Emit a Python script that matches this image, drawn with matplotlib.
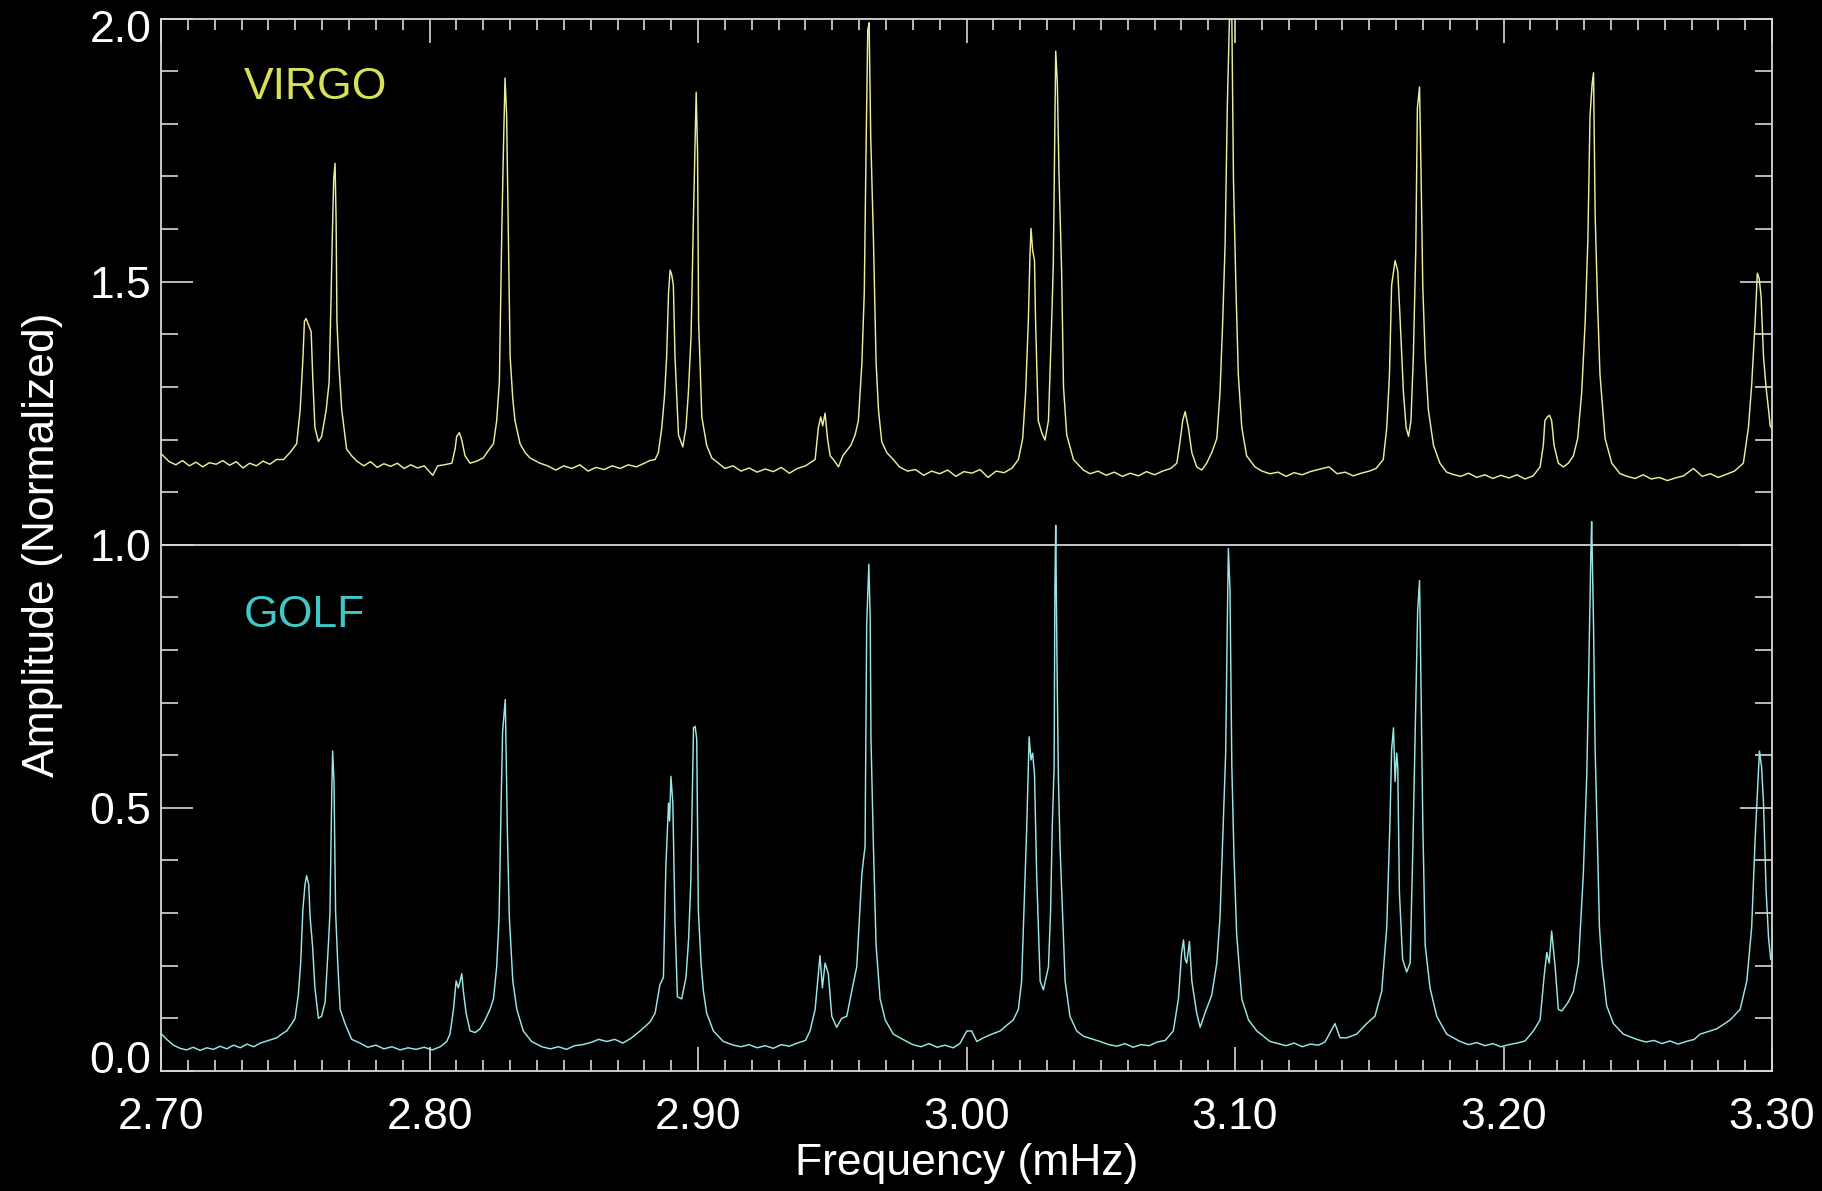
import matplotlib
matplotlib.use("Agg")
import matplotlib.pyplot as plt
import matplotlib.transforms as mtransforms
from matplotlib.ticker import MultipleLocator, FixedLocator

# ---------------- data ----------------
virgo_freq = [
    2.7002, 2.7030, 2.7055, 2.7080, 2.7105, 2.7130, 2.7155, 2.7180, 2.7205, 2.7230,
    2.7255, 2.7280, 2.7305, 2.7330, 2.7355, 2.7380, 2.7405, 2.7430, 2.7456, 2.7480,
    2.7505, 2.7518, 2.7528, 2.7534, 2.7540, 2.7549, 2.7559, 2.7565, 2.7573, 2.7586,
    2.7598, 2.7615, 2.7626, 2.7633, 2.7638, 2.7643, 2.7648, 2.7652, 2.7655, 2.7662,
    2.7673, 2.7691, 2.7710, 2.7729,
    2.7755, 2.7780, 2.7805, 2.7830, 2.7855, 2.7880, 2.7905, 2.7930, 2.7955, 2.7980,
    2.8012, 2.8030, 2.8055, 2.8083, 2.8095, 2.8101, 2.8111, 2.8120, 2.8132, 2.8151,
    2.8176, 2.8200, 2.8219, 2.8238, 2.8250, 2.8260, 2.8269, 2.8275, 2.8281, 2.8287,
    2.8293, 2.8300, 2.8310, 2.8318, 2.8337, 2.8356, 2.8374, 2.8411,
    2.8440, 2.8470, 2.8500, 2.8530, 2.8560, 2.8590, 2.8620, 2.8650, 2.8680, 2.8710,
    2.8740, 2.8770, 2.8800, 2.8820, 2.8840, 2.8852, 2.8865, 2.8875, 2.8883, 2.8890,
    2.8896, 2.8902, 2.8908, 2.8914, 2.8927, 2.8943, 2.8955, 2.8964, 2.8974, 2.8983,
    2.8989, 2.8993, 2.8998, 2.9002, 2.9014, 2.9032, 2.9051, 2.9076,
    2.9100, 2.9130, 2.9160, 2.9190, 2.9220, 2.9250, 2.9280, 2.9310, 2.9340, 2.9370,
    2.9400, 2.9436, 2.9448, 2.9457, 2.9464, 2.9473, 2.9482, 2.9492, 2.9504, 2.9523,
    2.9539, 2.9554, 2.9569, 2.9585, 2.9597, 2.9610, 2.9619, 2.9626, 2.9632, 2.9637,
    2.9643, 2.9653, 2.9663, 2.9672, 2.9684, 2.9703, 2.9727,
    2.9750, 2.9780, 2.9810, 2.9840, 2.9870, 2.9900, 2.9930, 2.9960, 2.9990, 3.0020,
    3.0050, 3.0080, 3.0110, 3.0140, 3.0170, 3.0193, 3.0209, 3.0220, 3.0230, 3.0236,
    3.0240, 3.0246, 3.0253, 3.0257, 3.0267, 3.0280, 3.0292, 3.0305, 3.0317, 3.0323,
    3.0332, 3.0338, 3.0344, 3.0354, 3.0361, 3.0373, 3.0398, 3.0435,
    3.0460, 3.0490, 3.0520, 3.0550, 3.0580, 3.0610, 3.0640, 3.0670, 3.0700, 3.0730,
    3.0760, 3.0783, 3.0795, 3.0805, 3.0814, 3.0826, 3.0839, 3.0857, 3.0876, 3.0894,
    3.0913, 3.0932, 3.0944, 3.0954, 3.0963, 3.0971, 3.0979, 3.0988, 3.0994, 3.1003,
    3.1012, 3.1025, 3.1043, 3.1074,
    3.1100, 3.1130, 3.1160, 3.1190, 3.1220, 3.1250, 3.1280, 3.1310, 3.1350, 3.1380,
    3.1410, 3.1440, 3.1470, 3.1500, 3.1525, 3.1552, 3.1565, 3.1575, 3.1583, 3.1596,
    3.1606, 3.1615, 3.1627, 3.1637, 3.1646, 3.1655, 3.1664, 3.1673, 3.1679, 3.1687,
    3.1693, 3.1699, 3.1708, 3.1720, 3.1739, 3.1763, 3.1788,
    3.1810, 3.1840, 3.1870, 3.1900, 3.1930, 3.1960, 3.1990, 3.2020, 3.2050, 3.2080,
    3.2110, 3.2136, 3.2148, 3.2154, 3.2163, 3.2171, 3.2179, 3.2188, 3.2204, 3.2223,
    3.2241, 3.2260, 3.2276, 3.2291, 3.2304, 3.2314, 3.2322, 3.2330, 3.2335, 3.2341,
    3.2350, 3.2359, 3.2378, 3.2403, 3.2434,
    3.2460, 3.2490, 3.2520, 3.2550, 3.2580, 3.2610, 3.2640, 3.2670, 3.2707, 3.2740,
    3.2770, 3.2800, 3.2830, 3.2860, 3.2893, 3.2912, 3.2924, 3.2937, 3.2945, 3.2952,
    3.2959, 3.2968, 3.2978, 3.2987, 3.2993, 3.2998,
]
virgo_amp = [
    1.172, 1.158, 1.152, 1.160, 1.150, 1.157, 1.148, 1.156, 1.153, 1.160,
    1.151, 1.158, 1.146, 1.155, 1.150, 1.159, 1.153, 1.162, 1.162, 1.175,
    1.192, 1.256, 1.351, 1.425, 1.430, 1.418, 1.405, 1.317, 1.223, 1.196,
    1.206, 1.256, 1.310, 1.466, 1.590, 1.695, 1.725, 1.614, 1.425, 1.344,
    1.256, 1.182, 1.169, 1.159,
    1.150, 1.158, 1.147, 1.154, 1.149, 1.155, 1.145, 1.152, 1.146, 1.150,
    1.132, 1.150, 1.152, 1.155, 1.182, 1.206, 1.213, 1.199, 1.169, 1.155,
    1.159, 1.165, 1.179, 1.192, 1.236, 1.310, 1.597, 1.749, 1.887, 1.816,
    1.601, 1.358, 1.277, 1.236, 1.192, 1.175, 1.165, 1.155,
    1.150, 1.142, 1.150, 1.145, 1.152, 1.140, 1.147, 1.143, 1.150, 1.145,
    1.152, 1.148, 1.155, 1.160, 1.162, 1.175, 1.223, 1.283, 1.358, 1.479,
    1.522, 1.513, 1.493, 1.358, 1.209, 1.186, 1.223, 1.290, 1.398, 1.628,
    1.762, 1.860, 1.749, 1.425, 1.243, 1.189, 1.165, 1.155,
    1.145, 1.150, 1.140, 1.146, 1.138, 1.144, 1.139, 1.147, 1.136, 1.145,
    1.150, 1.162, 1.223, 1.243, 1.226, 1.250, 1.202, 1.169, 1.162, 1.148,
    1.169, 1.179, 1.189, 1.209, 1.236, 1.344, 1.479, 1.762, 1.978, 1.992,
    1.776, 1.584, 1.347, 1.256, 1.196, 1.175, 1.162,
    1.148, 1.140, 1.143, 1.132, 1.140, 1.135, 1.142, 1.130, 1.139, 1.136,
    1.143, 1.128, 1.140, 1.137, 1.146, 1.162, 1.202, 1.290, 1.425, 1.547,
    1.601, 1.560, 1.540, 1.425, 1.236, 1.213, 1.199, 1.236, 1.425, 1.533,
    1.938, 1.877, 1.708, 1.520, 1.300, 1.209, 1.162, 1.142,
    1.135, 1.140, 1.132, 1.138, 1.130, 1.136, 1.131, 1.139, 1.133, 1.140,
    1.145, 1.155, 1.196, 1.236, 1.253, 1.223, 1.175, 1.148, 1.142, 1.155,
    1.175, 1.202, 1.290, 1.425, 1.574, 1.830, 1.999, 1.999, 1.695, 1.493,
    1.324, 1.223, 1.169, 1.148,
    1.140, 1.135, 1.138, 1.130, 1.137, 1.133, 1.139, 1.143, 1.148, 1.135,
    1.138, 1.131, 1.136, 1.140, 1.145, 1.162, 1.223, 1.324, 1.493, 1.540,
    1.520, 1.425, 1.290, 1.223, 1.206, 1.236, 1.358, 1.560, 1.830, 1.870,
    1.695, 1.493, 1.358, 1.256, 1.189, 1.155, 1.138,
    1.134, 1.130, 1.136, 1.128, 1.133, 1.126, 1.132, 1.127, 1.133, 1.125,
    1.131, 1.148, 1.189, 1.236, 1.243, 1.246, 1.236, 1.189, 1.155, 1.148,
    1.155, 1.169, 1.202, 1.290, 1.425, 1.580, 1.816, 1.877, 1.897, 1.628,
    1.459, 1.324, 1.202, 1.155, 1.135,
    1.130, 1.126, 1.133, 1.125, 1.128, 1.122, 1.127, 1.131, 1.145, 1.130,
    1.135, 1.128, 1.134, 1.140, 1.155, 1.223, 1.304, 1.425, 1.516, 1.506,
    1.472, 1.358, 1.297, 1.256, 1.226, 1.222,
]

golf_freq = [
    2.7002, 2.7021, 2.7046, 2.7071, 2.7095, 2.7120, 2.7145, 2.7170, 2.7195, 2.7220,
    2.7245, 2.7270, 2.7295, 2.7320, 2.7345, 2.7370, 2.7412, 2.7431, 2.7449, 2.7468,
    2.7487, 2.7499, 2.7511, 2.7520, 2.7528, 2.7536, 2.7542, 2.7550, 2.7555, 2.7564,
    2.7573, 2.7586, 2.7598, 2.7611, 2.7623, 2.7629, 2.7636, 2.7639, 2.7644, 2.7650,
    2.7658, 2.7667, 2.7685, 2.7710, 2.7741,
    2.7770, 2.7800, 2.7830, 2.7860, 2.7890, 2.7920, 2.7950, 2.7980, 2.8010, 2.8040,
    2.8064, 2.8076, 2.8089, 2.8099, 2.8107, 2.8114, 2.8120, 2.8126, 2.8136, 2.8151,
    2.8170, 2.8188, 2.8207, 2.8225, 2.8238, 2.8250, 2.8259, 2.8266, 2.8272, 2.8282,
    2.8290, 2.8297, 2.8310, 2.8325, 2.8349, 2.8380, 2.8418,
    2.8450, 2.8480, 2.8510, 2.8540, 2.8570, 2.8600, 2.8630, 2.8660, 2.8690, 2.8720,
    2.8750, 2.8784, 2.8821, 2.8840, 2.8858, 2.8871, 2.8880, 2.8890, 2.8894, 2.8899,
    2.8906, 2.8914, 2.8923, 2.8939, 2.8955, 2.8965, 2.8973, 2.8983, 2.8989, 2.8995,
    2.9001, 2.9011, 2.9020, 2.9032, 2.9057, 2.9094, 2.9132,
    2.9160, 2.9190, 2.9220, 2.9250, 2.9280, 2.9310, 2.9340, 2.9370, 2.9400, 2.9417,
    2.9436, 2.9448, 2.9454, 2.9463, 2.9473, 2.9485, 2.9498, 2.9516, 2.9535, 2.9554,
    2.9572, 2.9591, 2.9610, 2.9622, 2.9628, 2.9636, 2.9641, 2.9644, 2.9653, 2.9663,
    2.9678, 2.9697, 2.9727, 2.9777,
    2.9800, 2.9830, 2.9860, 2.9890, 2.9920, 2.9950, 2.9975, 3.0001, 3.0019, 3.0038,
    3.0063, 3.0094, 3.0125, 3.0150, 3.0174, 3.0193, 3.0205, 3.0214, 3.0224, 3.0233,
    3.0240, 3.0246, 3.0253, 3.0261, 3.0274, 3.0286, 3.0305, 3.0313, 3.0319, 3.0326,
    3.0329, 3.0332, 3.0337, 3.0342, 3.0348, 3.0361, 3.0367, 3.0385, 3.0410, 3.0435,
    3.0497,
    3.0530, 3.0560, 3.0590, 3.0620, 3.0650, 3.0680, 3.0710, 3.0740, 3.0770, 3.0789,
    3.0801, 3.0808, 3.0814, 3.0820, 3.0830, 3.0839, 3.0857, 3.0870, 3.0888, 3.0913,
    3.0932, 3.0944, 3.0954, 3.0965, 3.0971, 3.0975, 3.0981, 3.0988, 3.0996, 3.1006,
    3.1025, 3.1050, 3.1081, 3.1130,
    3.1160, 3.1190, 3.1220, 3.1250, 3.1280, 3.1310, 3.1335, 3.1372, 3.1391, 3.1416,
    3.1453, 3.1490, 3.1521, 3.1546, 3.1565, 3.1577, 3.1583, 3.1590, 3.1596, 3.1602,
    3.1606, 3.1612, 3.1624, 3.1639, 3.1652, 3.1662, 3.1674, 3.1680, 3.1687, 3.1693,
    3.1699, 3.1708, 3.1726, 3.1751, 3.1788, 3.1838,
    3.1870, 3.1900, 3.1930, 3.1960, 3.1990, 3.2020, 3.2050, 3.2080, 3.2111, 3.2136,
    3.2152, 3.2161, 3.2170, 3.2179, 3.2192, 3.2204, 3.2217, 3.2241, 3.2260, 3.2279,
    3.2297, 3.2310, 3.2318, 3.2325, 3.2328, 3.2335, 3.2341, 3.2350, 3.2357, 3.2366,
    3.2384, 3.2409, 3.2446, 3.2496,
    3.2530, 3.2560, 3.2590, 3.2620, 3.2650, 3.2680, 3.2710, 3.2732, 3.2794, 3.2844,
    3.2881, 3.2906, 3.2924, 3.2937, 3.2945, 3.2953, 3.2961, 3.2968, 3.2978, 3.2987,
    3.2995,
]
golf_amp = [
    0.070, 0.060, 0.049, 0.043, 0.040, 0.045, 0.039, 0.044, 0.041, 0.047,
    0.042, 0.049, 0.044, 0.051, 0.046, 0.053, 0.060, 0.063, 0.070, 0.076,
    0.090, 0.100, 0.144, 0.205, 0.306, 0.354, 0.371, 0.354, 0.293, 0.239,
    0.158, 0.100, 0.104, 0.131, 0.239, 0.300, 0.537, 0.608, 0.550, 0.303,
    0.205, 0.117, 0.090, 0.060, 0.053,
    0.045, 0.049, 0.042, 0.046, 0.040, 0.044, 0.041, 0.045, 0.040, 0.046,
    0.056, 0.070, 0.117, 0.171, 0.158, 0.171, 0.185, 0.151, 0.110, 0.076,
    0.073, 0.080, 0.097, 0.117, 0.137, 0.198, 0.293, 0.496, 0.645, 0.706,
    0.449, 0.293, 0.171, 0.117, 0.076, 0.056, 0.046,
    0.042, 0.046, 0.041, 0.048, 0.050, 0.054, 0.060, 0.056, 0.060, 0.053,
    0.062, 0.076, 0.093, 0.110, 0.164, 0.178, 0.388, 0.509, 0.475, 0.560,
    0.509, 0.286, 0.141, 0.137, 0.178, 0.252, 0.361, 0.652, 0.655, 0.631,
    0.306, 0.205, 0.151, 0.110, 0.076, 0.056, 0.049,
    0.046, 0.050, 0.044, 0.048, 0.043, 0.050, 0.047, 0.053, 0.058, 0.076,
    0.117, 0.185, 0.219, 0.158, 0.205, 0.185, 0.104, 0.083, 0.100, 0.104,
    0.151, 0.198, 0.374, 0.428, 0.848, 0.963, 0.862, 0.631, 0.428, 0.239,
    0.137, 0.097, 0.070, 0.056,
    0.050, 0.046, 0.052, 0.045, 0.049, 0.044, 0.052, 0.076, 0.076, 0.056,
    0.063, 0.070, 0.076, 0.087, 0.097, 0.117, 0.171, 0.306, 0.462, 0.635,
    0.591, 0.604, 0.564, 0.374, 0.171, 0.154, 0.198, 0.306, 0.462, 0.577,
    0.915, 1.037, 0.767, 0.557, 0.428, 0.252, 0.171, 0.104, 0.076, 0.066,
    0.056,
    0.050, 0.047, 0.052, 0.045, 0.050, 0.048, 0.055, 0.058, 0.076, 0.137,
    0.225, 0.249, 0.212, 0.205, 0.246, 0.171, 0.110, 0.083, 0.110, 0.144,
    0.205, 0.293, 0.442, 0.604, 0.848, 0.993, 0.915, 0.577, 0.408, 0.259,
    0.137, 0.097, 0.076, 0.056,
    0.052, 0.048, 0.053, 0.046, 0.051, 0.049, 0.055, 0.090, 0.063, 0.063,
    0.070, 0.090, 0.104, 0.151, 0.273, 0.476, 0.611, 0.652, 0.550, 0.604,
    0.577, 0.340, 0.212, 0.188, 0.205, 0.421, 0.726, 0.875, 0.932, 0.712,
    0.476, 0.239, 0.158, 0.104, 0.070, 0.056,
    0.050, 0.054, 0.048, 0.052, 0.046, 0.050, 0.053, 0.057, 0.076, 0.097,
    0.185, 0.225, 0.205, 0.266, 0.198, 0.117, 0.114, 0.131, 0.151, 0.205,
    0.374, 0.564, 0.780, 0.983, 1.044, 0.848, 0.611, 0.428, 0.273, 0.205,
    0.124, 0.090, 0.070, 0.060,
    0.055, 0.058, 0.052, 0.057, 0.051, 0.056, 0.060, 0.070, 0.080, 0.097,
    0.117, 0.171, 0.273, 0.442, 0.523, 0.608, 0.577, 0.509, 0.340, 0.252,
    0.212,
]

x_ticks = [2.70, 2.80, 2.90, 3.00, 3.10, 3.20, 3.30]
x_tick_labels = ["2.70", "2.80", "2.90", "3.00", "3.10", "3.20", "3.30"]
y_ticks = [0.0, 0.5, 1.0, 1.5, 2.0]
y_tick_labels = ["0.0", "0.5", "1.0", "1.5", "2.0"]
series_names = ["VIRGO", "GOLF"]
divider_level = 1.0

# ---------------- style ----------------
FONT = ["Liberation Sans", "DejaVu Sans"]
plt.rcParams["font.family"] = FONT
AX_COL = "#D8D8D8"
VIRGO_LINE = "#ECEC9A"
GOLF_LINE = "#9AE6E6"
VIRGO_TXT = "#D8E05A"
GOLF_TXT = "#40C8C8"
FS = 32

fig = plt.figure(figsize=(18.22, 11.91), dpi=100, facecolor="black")
ax = fig.add_axes([0.0884, 0.1008, 0.8842, 0.8836])
ax.set_facecolor("black")

ax.axhline(divider_level, color=AX_COL, lw=1.3, zorder=1)
ax.plot(golf_freq, golf_amp, color=GOLF_LINE, lw=1.05, zorder=2)
ax.plot(virgo_freq, virgo_amp, color=VIRGO_LINE, lw=1.05, zorder=3)

ax.set_xlim(2.70, 3.30)
ax.set_ylim(0.0, 2.0)

ax.xaxis.set_major_locator(FixedLocator(x_ticks))
ax.set_xticklabels(x_tick_labels)
ax.xaxis.set_minor_locator(MultipleLocator(0.01))
ax.yaxis.set_major_locator(FixedLocator(y_ticks))
ax.set_yticklabels(y_tick_labels)
ax.yaxis.set_minor_locator(MultipleLocator(0.1))

for s in ax.spines.values():
    s.set_color(AX_COL)
    s.set_linewidth(1.3)

ax.tick_params(which="both", direction="in", top=True, right=True,
               color=AX_COL, labelcolor="white", labelsize=FS, width=1.2)
ax.tick_params(axis="x", which="major", length=17, pad=19)
ax.tick_params(axis="x", which="minor", length=8)
ax.tick_params(axis="y", which="major", length=23, pad=7)
ax.tick_params(axis="y", which="minor", length=12)

ax.set_xlabel("Frequency (mHz)", color="white", fontsize=FS)
ax.set_ylabel("Amplitude (Normalized)", color="white", fontsize=FS)
ax.xaxis.label.set_va("center")
ax.yaxis.label.set_va("center")
ax.xaxis.set_label_coords(0.5, -0.0875)
ax.yaxis.set_label_coords(-0.0735, 0.5)

ax.text(2.7309, 1.847, series_names[0], color=VIRGO_TXT, fontsize=FS,
        ha="left", va="baseline")
ax.text(2.7309, 0.844, series_names[1], color=GOLF_TXT, fontsize=FS,
        ha="left", va="baseline")

# end labels of the y axis sit just inside the frame, as in the reference
yt = ax.yaxis.get_major_ticks()
yt[-1].label1.set_transform(yt[-1].label1.get_transform() +
                            mtransforms.ScaledTranslation(0, -7 / 100, fig.dpi_scale_trans))
yt[0].label1.set_transform(yt[0].label1.get_transform() +
                           mtransforms.ScaledTranslation(0, 14 / 100, fig.dpi_scale_trans))

fig.savefig("out.png", dpi=100, facecolor="black")
